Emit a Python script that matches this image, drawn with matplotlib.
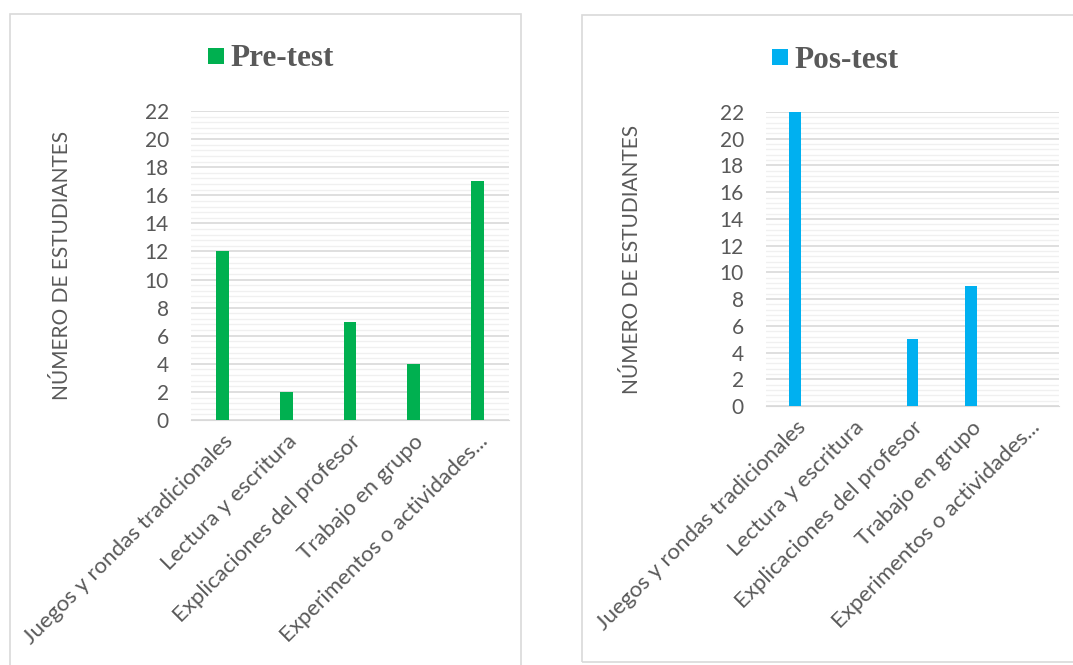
import matplotlib.pyplot as plt
from matplotlib.patches import Rectangle
from matplotlib.ticker import MultipleLocator

categories = ['Juegos y rondas tradicionales', 'Lectura y escritura',
              'Explicaciones del profesor', 'Trabajo en grupo',
              'Experimentos o actividades...']
pre_test = [12, 2, 7, 4, 17]
pos_test = [22, 0, 5, 9, 0]
yticks = list(range(0, 23, 2))

W, H = 1073, 665
gray = '#595959'
plt.rcParams['font.family'] = ['Lato', 'DejaVu Sans']

fig = plt.figure(figsize=(W / 100, H / 100), dpi=100)

def px_rect(x0, y0, x1, y1):
    return [x0 / W, 1 - y1 / H, (x1 - x0) / W, (y1 - y0) / H]

def add_box(x0, y0, x1, y1, **kw):
    r = px_rect(x0, y0, x1, y1)
    fig.patches.append(Rectangle((r[0], r[1]), r[2], r[3], transform=fig.transFigure, **kw))

# panel frames
add_box(10, 14, 521, 668, fill=False, edgecolor='#d9d9d9', lw=1.2)
add_box(582, 15, 1080, 662, fill=False, edgecolor='#d9d9d9', lw=1.2)

def draw(box, values, color, title, sq_x, sq_y, ylabel_x):
    ax = fig.add_axes(px_rect(*box))
    x = range(len(categories))
    ax.bar(x, values, width=0.2, color=color, zorder=3)
    ax.set_xlim(-0.5, len(categories) - 0.5)
    ax.set_ylim(0, 22)
    ax.set_yticks(yticks)
    ax.yaxis.set_minor_locator(MultipleLocator(0.4))
    ax.grid(axis='y', which='major', color='#d9d9d9', lw=1.2, zorder=0)
    ax.grid(axis='y', which='minor', color='#f0f0f0', lw=1.0, zorder=0)
    for s in ['top', 'right', 'left']:
        ax.spines[s].set_visible(False)
    ax.spines['bottom'].set_color('#d9d9d9')
    ax.tick_params(axis='both', which='both', length=0, labelsize=15, colors=gray)
    ax.tick_params(axis='y', pad=16)
    ax.set_xticks(list(x))
    ax.set_xticklabels(categories, rotation=45, ha='right', rotation_mode='anchor',
                       fontsize=16)
    ax.tick_params(axis='x', pad=8)
    # title with legend square
    add_box(sq_x, sq_y, sq_x + 16, sq_y + 16, facecolor=color, edgecolor='none')
    fig.text((sq_x + 22) / W, 1 - (sq_y + 11) / H, title, color=gray, fontsize=22.5,
             fontweight='bold', ha='left', va='center', family='Liberation Serif')
    fig.text(ylabel_x / W, 1 - (box[1] + box[3]) / 2 / H, 'NÚMERO DE ESTUDIANTES',
             rotation=90, ha='center', va='center', color=gray, fontsize=15)

draw((191, 111, 509, 420), pre_test, '#00B050', 'Pre-test', 208, 48, 62)
draw((766, 112, 1059, 406), pos_test, '#00B0F0', 'Pos-test', 772, 49, 632)

fig.savefig('out.png', dpi=100)
